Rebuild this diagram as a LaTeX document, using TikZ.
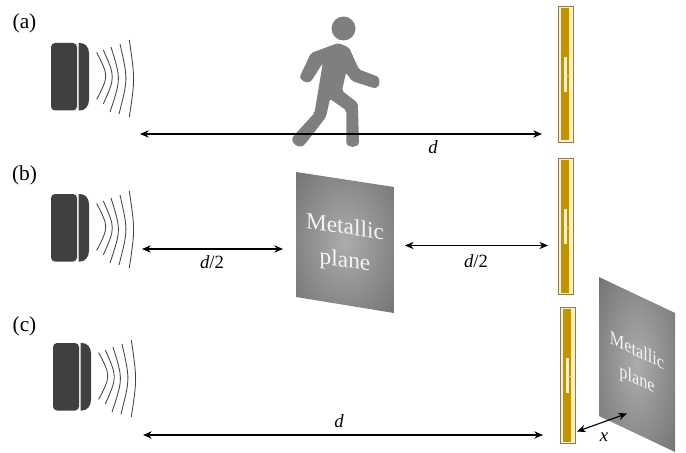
\documentclass[tikz,border=0pt]{standalone}
\usepackage{fontspec}
\setmainfont{Liberation Serif}
\usetikzlibrary{arrows.meta}
\definecolor{bodydark}{RGB}{64,64,64}
\definecolor{goldfill}{RGB}{197,146,0}
\definecolor{goldlight}{RGB}{255,240,190}
\definecolor{goldedge}{RGB}{140,125,90}
\definecolor{feedc}{RGB}{245,205,110}
\definecolor{walker}{RGB}{127,127,127}
\definecolor{plateedge}{RGB}{112,112,112}
\definecolor{platemid}{RGB}{172,172,172}
\definecolor{waveink}{RGB}{70,70,70}
\pgfdeclareradialshading{platefade}{\pgfpoint{0bp}{0bp}}{color(0bp)=(platemid); color(38bp)=(plateedge); color(50bp)=(plateedge)}
\tikzset{
  x=0.75pt,y=-0.75pt,
  dim/.style={line width=0.85pt,{Stealth[length=6.5pt,width=5.5pt]}-{Stealth[length=6.5pt,width=5.5pt]},black},
  lab/.style={inner sep=0pt,font=\fontsize{16}{18}\selectfont,anchor=center},
  dimlab/.style={inner sep=0pt,font=\fontsize{14}{16}\selectfont\itshape,anchor=center},
  platetxt/.style={inner sep=0pt,align=center,text=white!92!gray},
  wave/.style={draw=waveink,line width=0.65pt},
  pics/sensor/.style={code={
    \fill[bodydark,rounded corners=3pt] (51,43) rectangle (77,110.5);
    \fill[bodydark] (78.5,43) -- (80,43) .. controls (85,43) and (89,47) .. (89,53) -- (89,100) .. controls (89,106) and (85,110.5) .. (80,110.5) -- (78.5,110.5) -- cycle;
    \draw[wave] (96.7,52.5) .. controls (108.7,76) .. (96.7,99.5);
    \draw[wave] (103.3,50) .. controls (115.3,77) .. (103.3,104);
    \draw[wave] (111,47) .. controls (121,79) .. (110,112);
    \draw[wave] (120,44) .. controls (128,79) .. (119,114);
    \draw[wave] (129.3,40) .. controls (135,79) .. (129.3,117);
  }},
  pics/patch/.style={code={
    \fill[goldlight,draw=goldedge,line width=0.6pt] (558.3,6.3) rectangle (573.7,142.5);
    \fill[goldfill] (560.8,8) rectangle (569.4,140.5);
    \fill[goldlight] (563.8,57.3) rectangle (567,91.7);
    \draw[feedc,line width=0.8pt] (566,75.5) -- (570,75.5);
  }}
}
\begin{document}
\begin{tikzpicture}
\useasboundingbox (0,0) rectangle (686,453);
% labels
\node[lab] (la) at (24.5,23) {(a)};
\node[lab] (lb) at (24.5,175) {(b)};
\node[lab] (lc) at (24.5,326) {(c)};
% sensors
\pic at (0,0) {sensor};
\pic at (0,151) {sensor};
\pic at (2,300) {sensor};
% antennas
\pic at (0,0) {patch};
\pic at (0,152) {patch};
\pic at (2,301) {patch};
% walker
\fill[walker] (343.5,28.5) circle (12);
\fill[walker,rounded corners=1.5pt] (338.3,43) -- (349,47.5) -- (359,69.5) -- (375,75.5) .. controls (381,78) and (380,88) .. (373.5,88) -- (352,81) -- (346,72.7) -- (342,90.7) -- (357.8,103) -- (358.9,140) .. controls (358.9,148.5) and (346.4,148.5) .. (346.4,140) -- (346.4,110.5) -- (330,98.8) -- (326,117) -- (305.5,143.5) .. controls (299,150) and (289,142) .. (294.5,135) -- (314.5,113) -- (322.8,63) -- (312,80) .. controls (308,84) and (298,81) .. (301.5,73) -- (311,53) -- cycle;
% distance (a)
\coordinate (a1) at (140,134);
\coordinate (a2) at (542,134);
\draw[dim] (a1) -- (a2);
\node[dimlab] (da) at (433,147) {d};
% plate (b)
\shade[shading=platefade] (296,172) -- (394,187) -- (394,313) -- (296,297) -- cycle;
\node[platetxt,font=\fontsize{17.5}{25}\selectfont,cm={1,-0.146,0,1,(0,0)}] (mb) at (345,245) {Metallic\\plane};
% distances (b)
\coordinate (b1) at (142,249);
\coordinate (b2) at (283,249);
\coordinate (b3) at (405,245.5);
\coordinate (b4) at (548,245.5);
\draw[dim] (b1) -- (b2);
\draw[dim] (b3) -- (b4);
\node[dimlab] (db1) at (212,262) {d\textup{/2}};
\node[dimlab] (db2) at (476,261) {d\textup{/2}};
% plate (c)
\shade[shading=platefade] (599,277) -- (675,313) -- (675,452) -- (599,416) -- cycle;
\node[platetxt,font=\fontsize{14.5}{21}\selectfont,cm={0.84,-0.40,0,1,(0,0)}] (mc) at (637,366) {Metallic\\plane};
% distances (c)
\coordinate (c1) at (143,435);
\coordinate (c2) at (543,435);
\coordinate (c3) at (577,431.5);
\coordinate (c4) at (627,413.5);
\draw[dim] (c1) -- (c2);
\draw[dim] (c3) -- (c4);
\node[dimlab] (dc) at (339,421) {d};
\node[dimlab] (dx) at (604,437) {x};
\end{tikzpicture}
\end{document}
